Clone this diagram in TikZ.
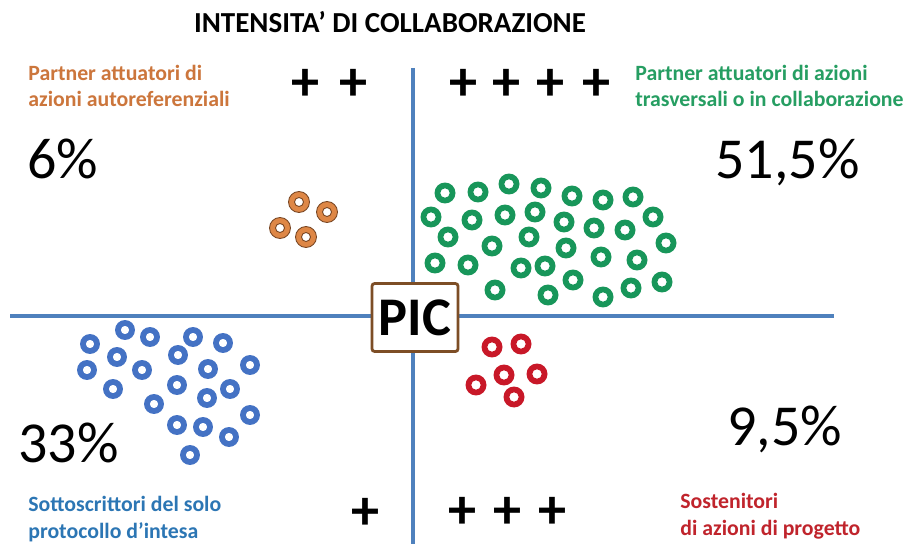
\documentclass[tikz,border=0pt]{standalone}
\usepackage{fontspec}
\setmainfont{Carlito}
\definecolor{axisblue}{RGB}{79,129,189}
\definecolor{picbrown}{RGB}{125,78,38}
\definecolor{ringgreen}{RGB}{24,150,90}
\definecolor{ringblue}{RGB}{68,114,196}
\definecolor{ringred}{RGB}{200,24,40}
\definecolor{ringorange}{RGB}{222,135,70}
\definecolor{ringedge}{RGB}{120,70,35}
\definecolor{txtorange}{RGB}{204,118,60}
\definecolor{txtgreen}{RGB}{38,158,98}
\definecolor{txtblue}{RGB}{44,118,180}
\definecolor{txtred}{RGB}{192,36,44}
\tikzset{
  axis/.style={axisblue,line width=1.8pt},
  quadlabel/.style={anchor=base west,align=left,inner sep=0pt,
    font=\bfseries\fontsize{12.4}{15.3}\selectfont},
  share/.style={anchor=base west,inner sep=0pt,font=\fontsize{33}{40}\selectfont},
  plus/.style={inner sep=0pt,font=\bfseries\fontsize{32}{38}\selectfont},
}
\begin{document}
\begin{tikzpicture}[x=0.02cm,y=-0.02cm]
\useasboundingbox[fill=white] (0,0) rectangle (910,544);
% assi
\coordinate (top) at (413,68);
\coordinate (bottom) at (413,544);
\coordinate (left) at (10,316);
\coordinate (right) at (834,316);
\draw[axis] (top) -- (bottom);
\draw[axis] (left) -- (right);
\node[draw=picbrown,line width=1.6pt,rounded corners=1.5pt,fill=white,minimum width=1.72cm,minimum height=1.36cm,
  font=\bfseries\fontsize{31}{36}\selectfont] (pic) at (415,317.5) {PIC};
% titolo
\node[anchor=base,inner sep=0pt,font=\bfseries\fontsize{16.5}{20}\selectfont] (title) at (390,33) {INTENSITA’ DI COLLABORAZIONE};
% etichette dei quadranti (ancorate all'ultima riga)
\node[quadlabel,txtorange] (autoref) at (28,107) {Partner attuatori di\\azioni autoreferenziali};
\node[quadlabel,txtgreen] (trasv) at (635,107) {Partner attuatori di azioni\\trasversali o in collaborazione};
\node[quadlabel,txtblue] (protoc) at (28,538) {Sottoscrittori del solo\\protocollo d’intesa};
\node[quadlabel,txtred] (sosten) at (680,535) {Sostenitori\\di azioni di progetto};
\node[share] (p6) at (27,178) {6\%};
\node[share] (p515) at (715,178) {51,5\%};
\node[share] (p33) at (18,462) {33\%};
\node[share] (p95) at (727,445) {9,5\%};
% intensita'
\node[plus] (pa1) at (305,85) {+};
\node[plus] (pa2) at (353,85) {+};
\node[plus] (pb1) at (463,85) {+};
\node[plus] (pb2) at (506,85) {+};
\node[plus] (pb3) at (550,85) {+};
\node[plus] (pb4) at (596,85) {+};
\node[plus] (pc1) at (365,514) {+};
\node[plus] (pd1) at (462,513) {+};
\node[plus] (pd2) at (507,513) {+};
\node[plus] (pd3) at (552,513) {+};
% anelli
\foreach \x/\y in {299/202,327/212,280/228,306/237}
  \filldraw[fill=ringorange,draw=ringedge,line width=0.5pt,even odd rule] (\x,\y) circle (0.21cm) circle (0.09cm);
\foreach \x/\y in {445/193,478/192,509/184,541/188,572/196,603/200,633/197,
    431/217,472/220,505/215,535/212,564/222,594/228,625/230,653/217,
    448/237,492/246,529/237,566/248,601/257,666/243,
    435/263,468/265,521/268,545/266,637/260,
    495/290,548/295,573/280,603/297,631/288,662/282}
  \fill[ringgreen,even odd rule] (\x,\y) circle (0.21cm) circle (0.095cm);
\foreach \x/\y in {90/344,125/330,150/337,193/337,223/343,117/357,178/355,
    87/370,142/370,208/369,250/365,113/389,177/385,230/389,207/398,
    154/404,250/415,177/425,203/427,229/437,190/455}
  \fill[ringblue,even odd rule] (\x,\y) circle (0.2cm) circle (0.085cm);
\foreach \x/\y in {492/347,521/344,504/375,537/374,476/385,514/397}
  \fill[ringred,even odd rule] (\x,\y) circle (0.21cm) circle (0.095cm);
\end{tikzpicture}
\end{document}
